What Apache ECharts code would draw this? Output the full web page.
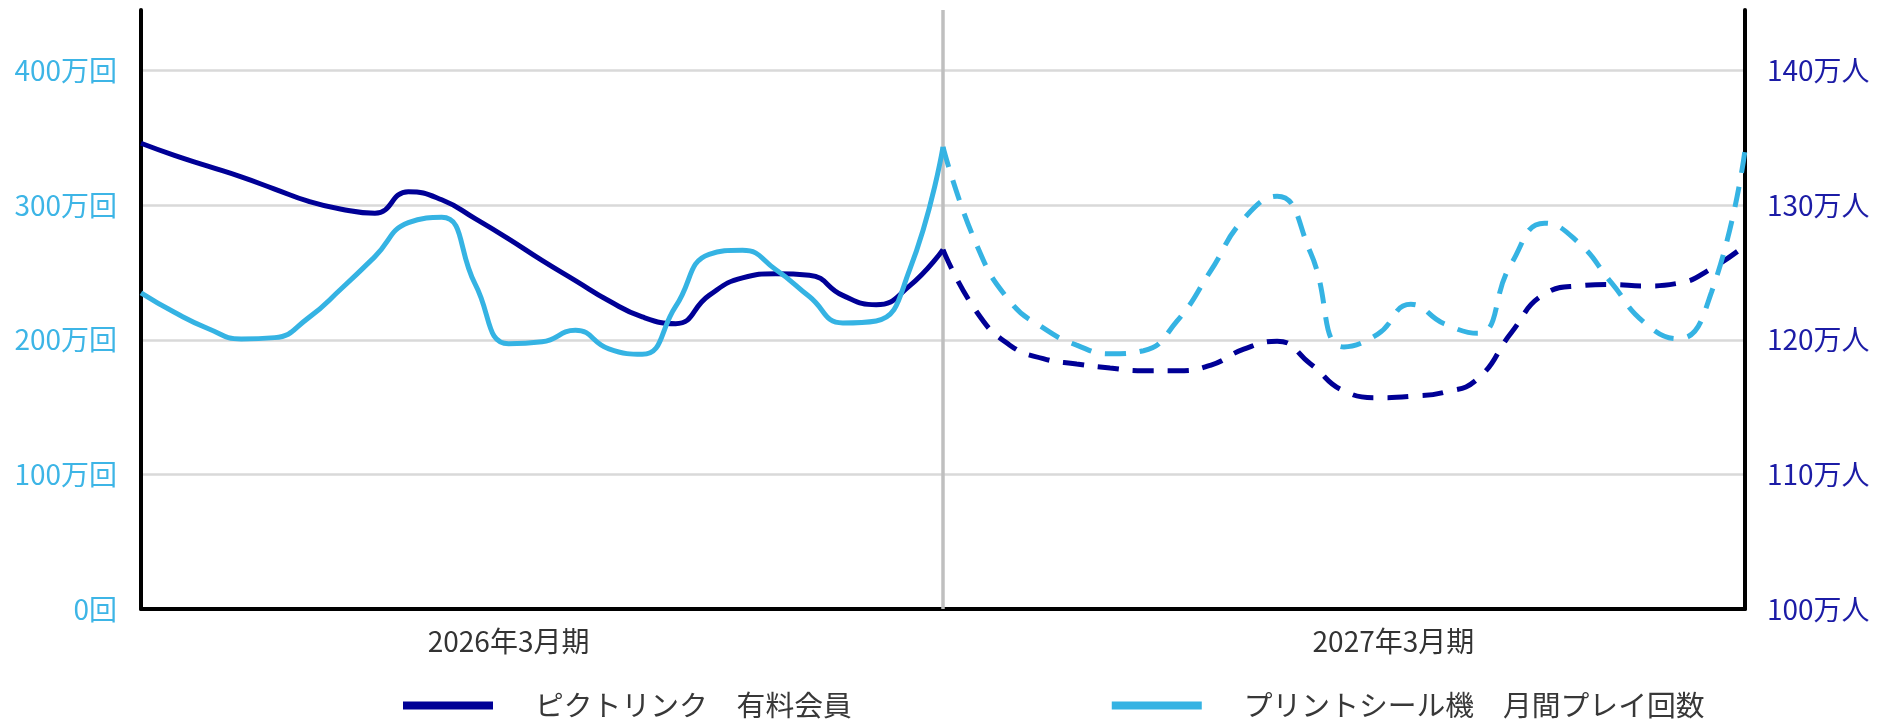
<!DOCTYPE html>
<html>
<head>
<meta charset="utf-8">
<script src="https://cdn.jsdelivr.net/npm/echarts@6/dist/echarts.min.js"></script>
<style>
html,body{margin:0;padding:0;background:#ffffff;}
#chart{width:1877px;height:721px;}
</style>
</head>
<body>
<div id="chart"></div>
<script>
// ---- data ----
const categories = ['2025/03','2025/03中','2025/04','2025/04中','2025/05','2025/05中','2025/06','2025/06中','2025/07','2025/07中','2025/08','2025/08中','2025/09','2025/09中','2025/10','2025/10中','2025/11','2025/11中','2025/12','2025/12中','2026/01','2026/01中','2026/02','2026/02中','2026/03','2026/03中','2026/04','2026/04中','2026/05','2026/05中','2026/06','2026/06中','2026/07','2026/07中','2026/08','2026/08中','2026/09','2026/09中','2026/10','2026/10中','2026/11','2026/11中','2026/12','2026/12中','2027/01','2027/01中','2027/02','2027/02中','2027/03'];
const periodLabels = ['2026年3月期', '2027年3月期'];
const seriesNames = ['ピクトリンク　有料会員', 'プリントシール機　月間プレイ回数'];

// ピクトリンク 有料会員 (万人) — actual (2025/03〜2026/03) and forecast (2026/03〜2027/03)
const memberActual = [134.6, 133.7, 132.9, 132.1, 131.2, 130.3, 129.7, 129.4, 131.0, 130.4, 129.0, 127.5, 125.9, 124.4, 122.9, 121.7, 121.2, 123.3, 124.6, 124.9, 124.8, 123.3, 122.6, 124.0, 126.7];
const memberForecast = [126.7, 122.1, 119.6, 118.6, 118.2, 117.9, 117.7, 117.7, 118.1, 119.3, 119.9, 118.2, 116.2, 115.7, 115.8, 116.1, 117.1, 120.5, 123.4, 124.0, 124.1, 124.0, 124.2, 125.3, 127.0];

// プリントシール機 月間プレイ回数 (万回)
const playActual = [234.9, 220.4, 208.4, 200.6, 201.6, 216.1, 238.1, 261.8, 287.0, 291.0, 241.4, 197.0, 198.5, 207.1, 193.3, 189.2, 224.8, 263.5, 266.5, 252.0, 232.1, 212.5, 214.0, 251.9, 343.3];
const playForecast = [343.3, 270.9, 228.7, 208.8, 196.0, 189.6, 191.9, 213.8, 250.8, 289.8, 306.7, 264.6, 194.7, 204.0, 226.4, 211.9, 204.8, 256.2, 286.6, 272.6, 242.4, 212.6, 200.8, 235.6, 340.8];

// ---- layout / style ----
const DARK = '#000096';
const LIGHT = '#35b3e3';
const FONT = 'Noto Sans CJK JP';
const splitIndex = 24;          // boundary between actual and forecast
const labelIndex = [11, 37];    // where the period labels sit

const pad = (arr, before, after) => Array(before).fill(null).concat(arr, Array(after).fill(null));
const n = categories.length;

const chart = echarts.init(document.getElementById('chart'), null, {renderer: 'canvas'});
chart.setOption({
  animation: false,
  backgroundColor: '#ffffff',
  grid: {left: 141, right: 132, top: 10, bottom: 112, containLabel: false},
  legend: {
    left: 398, top: 686,
    itemWidth: 90, itemHeight: 8, itemGap: 260,
    selectedMode: false,
    formatter: name => '{t|' + name + '}',
    textStyle: {rich: {t: {padding: [0, 0, 0, 37], fontSize: 28.8, lineHeight: 32, color: '#383838', fontFamily: FONT}}},
    data: [
      {name: seriesNames[0], icon: 'rect', itemStyle: {color: DARK}},
      {name: seriesNames[1], icon: 'rect', itemStyle: {color: LIGHT}}
    ]
  },
  xAxis: {
    type: 'category',
    data: categories,
    boundaryGap: false,
    axisLine: {show: true, lineStyle: {color: '#000000', width: 4}},
    axisTick: {show: false},
    splitLine: {show: false},
    axisLabel: {
      interval: 0,
      margin: 18,
      fontSize: 28,
      fontFamily: FONT,
      color: '#333333',
      formatter: (v, i) => i === labelIndex[0] ? periodLabels[0] : (i === labelIndex[1] ? '{s|' + periodLabels[1] + '}' : ''),
      rich: {s: {padding: [0, 0, 0, 32], fontSize: 28, fontFamily: FONT, color: '#333333'}}
    }
  },
  yAxis: [
    {
      type: 'value', position: 'left',
      min: 0, max: 445, interval: 100,
      axisLine: {show: true, lineStyle: {color: '#000000', width: 4}},
      axisTick: {show: false},
      axisLabel: {
        margin: 24, fontSize: 28, fontFamily: FONT, color: '#3db5e6',
        showMaxLabel: false,
        formatter: v => (v === 0 ? '0回' : v + '万回')
      },
      splitLine: {
        show: true, showMaxLine: false,
        lineStyle: {color: ['#d9d9d9', '#d9d9d9', '#d9d9d9', '#d9d9d9', '#d9d9d9', 'rgba(0,0,0,0)'], width: 2.5}
      }
    },
    {
      type: 'value', position: 'right',
      min: 100, max: 144.5, interval: 10,
      axisLine: {show: true, lineStyle: {color: '#000000', width: 4}},
      axisTick: {show: false},
      axisLabel: {
        margin: 22, fontSize: 28, fontFamily: FONT, color: '#1c1ca6',
        showMaxLabel: false,
        formatter: v => v + '万人'
      },
      splitLine: {show: false}
    }
  ],
  series: [
    {
      name: seriesNames[0], type: 'line', yAxisIndex: 1,
      data: pad(memberActual, 0, n - memberActual.length),
      smooth: 0.5, symbol: 'none', z: 3,
      color: DARK, itemStyle: {color: DARK},
      lineStyle: {color: DARK, width: 5},
      markLine: {
        silent: true, symbol: ['none', 'none'], z: 1,
        label: {show: false},
        lineStyle: {color: '#bfbfbf', width: 3.5, type: 'solid'},
        data: [{xAxis: categories[splitIndex]}]
      }
    },
    {
      name: seriesNames[0], type: 'line', yAxisIndex: 1,
      data: pad(memberForecast, splitIndex, n - splitIndex - memberForecast.length),
      smooth: 0.5, symbol: 'none', z: 3,
      color: DARK, itemStyle: {color: DARK},
      lineStyle: {color: DARK, width: 5, type: [21, 14]}
    },
    {
      name: seriesNames[1], type: 'line', yAxisIndex: 0,
      data: pad(playActual, 0, n - playActual.length),
      smooth: 0.5, symbol: 'none', z: 4,
      color: LIGHT, itemStyle: {color: LIGHT},
      lineStyle: {color: LIGHT, width: 5}
    },
    {
      name: seriesNames[1], type: 'line', yAxisIndex: 0,
      data: pad(playForecast, splitIndex, n - splitIndex - playForecast.length),
      smooth: 0.5, symbol: 'none', z: 4,
      color: LIGHT, itemStyle: {color: LIGHT},
      lineStyle: {color: LIGHT, width: 5, type: [21, 14]}
    }
  ]
});
</script>
</body>
</html>
